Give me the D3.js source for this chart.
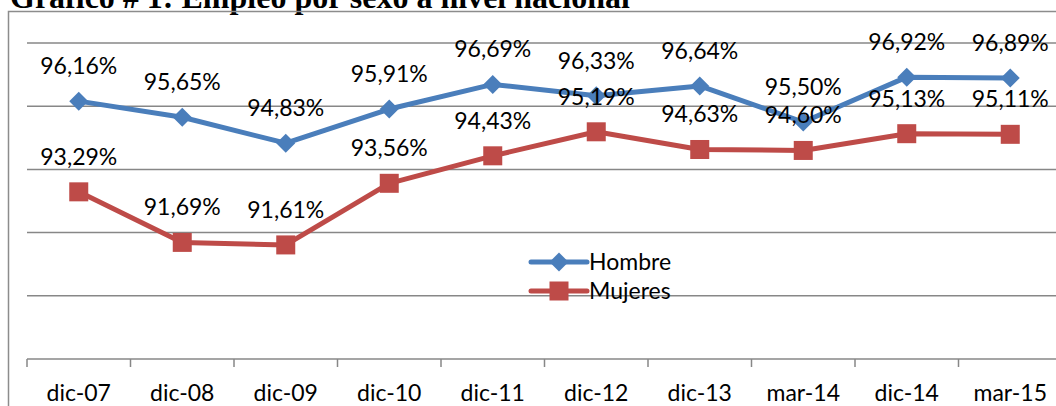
<!DOCTYPE html>
<html>
<head>
<meta charset="utf-8">
<script src="https://cdn.jsdelivr.net/npm/d3@7"></script>
<style>
html,body{margin:0;padding:0;background:#fff;overflow:hidden;}
svg{display:block;}
</style>
</head>
<body>
<svg id="chart" width="1056" height="406"></svg>
<script>
const categories = ["dic-07","dic-08","dic-09","dic-10","dic-11","dic-12","dic-13","mar-14","dic-14","mar-15"];
const hombre = [96.16, 95.65, 94.83, 95.91, 96.69, 96.33, 96.64, 95.50, 96.92, 96.89];
const mujeres = [93.29, 91.69, 91.61, 93.56, 94.43, 95.19, 94.63, 94.60, 95.13, 95.11];
const yTicks = [88, 90, 92, 94, 96, 98];
const seriesNames = ["Hombre", "Mujeres"];
const titleText = "Gráfico # 1: Empleo por sexo a nivel nacional";

const FONT = "Lato, 'Open Sans', sans-serif";
const svg = d3.select("#chart");

// title (cropped at top, as in the reference)
svg.append("text").attr("x", 10).attr("y", 7.5)
  .attr("font-family", "'Liberation Serif', 'Times New Roman', serif")
  .attr("font-weight", "bold").attr("font-size", 32).attr("fill", "#000")
  .text(titleText);

// chart border
svg.append("rect").attr("x", 8.5).attr("y", 11.5).attr("width", 1100).attr("height", 450)
  .attr("fill", "none").attr("stroke", "#8c8c8c").attr("stroke-width", 1.5);

const x = d3.scaleBand().domain(categories).range([27, 1062]).padding(0);
const y = d3.scaleLinear().domain([88, 98]).range([359, 43]);

// gridlines
svg.append("g").selectAll("line").data(yTicks.filter(t => t > 88)).join("line")
  .attr("x1", 27).attr("x2", 1062)
  .attr("y1", d => y(d)).attr("y2", d => y(d))
  .attr("stroke", "#878787").attr("stroke-width", 1.5);

// x axis
const xAxis = d3.axisBottom(x).tickSize(0).tickPadding(0);
const gx = svg.append("g").attr("transform", `translate(0,${y(88)})`).call(xAxis);
gx.select(".domain").remove();
gx.selectAll("text").attr("font-family", FONT).attr("font-size", 23).attr("fill", "#000")
  .attr("dy", 0).attr("y", 42);
svg.append("line").attr("x1", 27).attr("x2", 1062).attr("y1", y(88)).attr("y2", y(88))
  .attr("stroke", "#878787").attr("stroke-width", 1.5);
const bounds = categories.map(c => x(c)).concat([x(categories[categories.length-1]) + x.bandwidth()]);
svg.append("g").selectAll("line").data(bounds).join("line")
  .attr("x1", d => d).attr("x2", d => d)
  .attr("y1", y(88)).attr("y2", y(88) + 8)
  .attr("stroke", "#878787").attr("stroke-width", 1.5);

const cx = c => x(c) + x.bandwidth() / 2;
const line = d3.line().x((d, i) => cx(categories[i])).y(d => y(d));

const series = [
  { name: seriesNames[0], values: hombre, color: "#4A7EBB", marker: "diamond" },
  { name: seriesNames[1], values: mujeres, color: "#BE4B48", marker: "square" }
];

function drawMarker(g, type, px, py, color) {
  const s = 9.5;
  if (type === "diamond") {
    g.append("path").attr("d", `M${px},${py - s}L${px + s},${py}L${px},${py + s}L${px - s},${py}Z`)
      .attr("fill", color);
  } else {
    g.append("rect").attr("x", px - s).attr("y", py - s).attr("width", 2 * s).attr("height", 2 * s)
      .attr("fill", color);
  }
}

series.forEach(s => {
  const g = svg.append("g");
  g.append("path").datum(s.values).attr("d", line)
    .attr("fill", "none").attr("stroke", s.color).attr("stroke-width", 5)
    .attr("stroke-linejoin", "round");
  s.values.forEach((v, i) => drawMarker(g, s.marker, cx(categories[i]), y(v), s.color));
});

// data labels
const fmt = v => v.toFixed(2).replace(".", ",") + "%";
series.forEach(s => {
  svg.append("g").selectAll("text").data(s.values).join("text")
    .attr("x", (d, i) => cx(categories[i]))
    .attr("y", d => y(d) - 27)
    .attr("text-anchor", "middle")
    .attr("font-family", FONT).attr("font-size", 23).attr("fill", "#000")
    .text(fmt);
});

// legend
const leg = svg.append("g");
series.forEach((s, i) => {
  const ly = 262 + i * 29;
  leg.append("line").attr("x1", 531).attr("x2", 587).attr("y1", ly).attr("y2", ly)
    .attr("stroke", s.color).attr("stroke-width", 5).attr("stroke-linecap", "round");
  drawMarker(leg, s.marker, 559, ly, s.color);
  leg.append("text").attr("x", 589).attr("y", ly + 8)
    .attr("font-family", FONT).attr("font-size", 23).attr("fill", "#000")
    .text(s.name);
});
</script>
</body>
</html>
